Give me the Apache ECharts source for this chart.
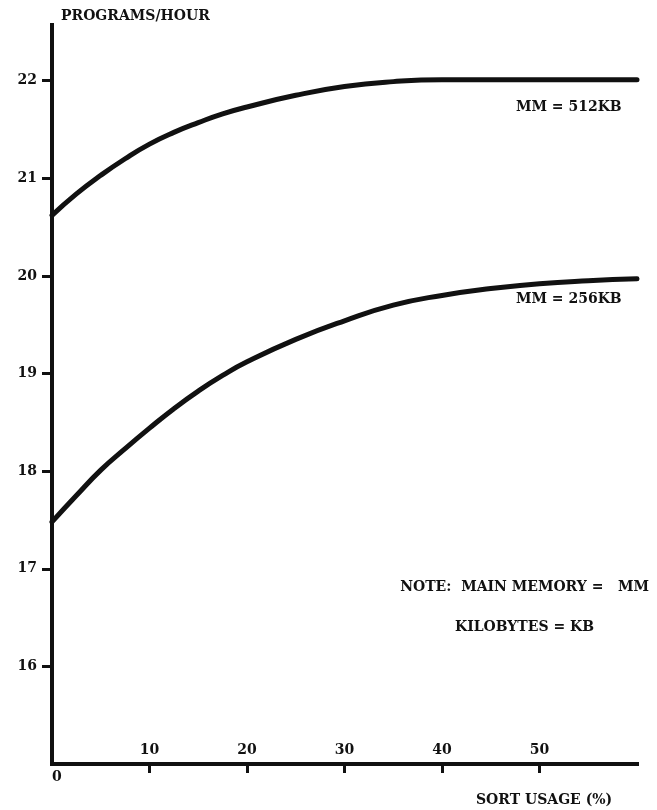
<!DOCTYPE html>
<html>
<head>
<meta charset="utf-8">
<script src="https://cdn.jsdelivr.net/npm/echarts@6/dist/echarts.min.js"></script>
<style>
  html, body { margin: 0; padding: 0; background: #fff; }
  #chart { width: 657px; height: 810px; }
</style>
</head>
<body>
<div id="chart"></div>
<script>
// Sort usage (%) at which the throughput curves are sampled
const sortUsage = [0, 2.5, 5, 7.5, 10, 12.5, 15, 17.5, 20, 25, 30, 35, 40, 45, 50, 55, 60];
// Programs per hour, main memory 512 KB
const mm512 = [20.62, 20.84, 21.03, 21.20, 21.35, 21.47, 21.57, 21.66, 21.73, 21.85, 21.94, 21.99, 22.01, 22.01, 22.01, 22.01, 22.01];
// Programs per hour, main memory 256 KB
const mm256 = [17.48, 17.75, 18.01, 18.23, 18.44, 18.64, 18.82, 18.98, 19.12, 19.35, 19.54, 19.70, 19.80, 19.87, 19.92, 19.95, 19.97];
// Tick labels
const yTicks = [16, 17, 18, 19, 20, 21, 22];
const xTicks = [10, 20, 30, 40, 50];
const xOrigin = [0];

const FONT = 'DejaVu Serif';
const INK = '#111';
const TEXT_FONT = 'bold 14px "DejaVu Serif"';

const pairs = (xs, ys) => xs.map((x, i) => [x, ys[i]]);

const chart = echarts.init(document.getElementById('chart'), null, { renderer: 'canvas' });

const curve = (name, values) => ({
  name, type: 'line', data: pairs(sortUsage, values),
  smooth: true, showSymbol: false,
  lineStyle: { color: INK, width: 5, cap: 'round', join: 'round' }
});

chart.setOption({
  animation: false,
  backgroundColor: '#fff',
  grid: { left: 52, right: 20, top: 25, bottom: 46, containLabel: false },
  xAxis: [
    {
      type: 'value', min: 0, max: 60, interval: 10, position: 'bottom',
      axisLine: { show: true, lineStyle: { color: INK, width: 4, cap: 'square' } },
      axisTick: { show: true, customValues: xTicks, length: 9, inside: false, lineStyle: { color: INK, width: 3 } },
      axisLabel: { customValues: xTicks, inside: true, margin: 7, color: INK, fontFamily: FONT, fontWeight: 'bold', fontSize: 14 },
      splitLine: { show: false }
    },
    {
      // second bottom axis carries only the origin label, set below the line
      type: 'value', min: 0, max: 60, interval: 10, position: 'bottom',
      axisLine: { show: false }, axisTick: { show: false },
      axisLabel: { customValues: xOrigin, margin: 6, align: 'left', color: INK, fontFamily: FONT, fontWeight: 'bold', fontSize: 14 },
      splitLine: { show: false }
    }
  ],
  yAxis: {
    type: 'value', min: 15, max: 22.57, interval: 1,
    name: 'PROGRAMS/HOUR', nameLocation: 'end', nameGap: 2,
    nameTextStyle: { align: 'left', padding: [0, 0, 0, 9], color: INK, fontFamily: FONT, fontWeight: 'bold', fontSize: 14 },
    axisLine: { show: true, lineStyle: { color: INK, width: 4, cap: 'square' } },
    axisTick: { show: true, customValues: yTicks, length: 10, lineStyle: { color: INK, width: 3 } },
    axisLabel: { customValues: yTicks, margin: 15, color: INK, fontFamily: FONT, fontWeight: 'bold', fontSize: 14 },
    splitLine: { show: false }
  },
  series: [
    curve('MM = 512KB', mm512),
    curve('MM = 256KB', mm256)
  ],
  graphic: [
    { type: 'text', left: 516, top: 100, style: { text: 'MM = 512KB', fill: INK, font: TEXT_FONT } },
    { type: 'text', left: 516, top: 292, style: { text: 'MM = 256KB', fill: INK, font: TEXT_FONT } },
    { type: 'text', right: 8, top: 580, style: { text: 'NOTE:  MAIN MEMORY =   MM', fill: INK, font: TEXT_FONT } },
    { type: 'text', left: 455, top: 620, style: { text: 'KILOBYTES = KB', fill: INK, font: TEXT_FONT } },
    { type: 'text', left: 476, top: 793, style: { text: 'SORT USAGE (%)', fill: INK, font: TEXT_FONT } }
  ]
});
</script>
</body>
</html>
